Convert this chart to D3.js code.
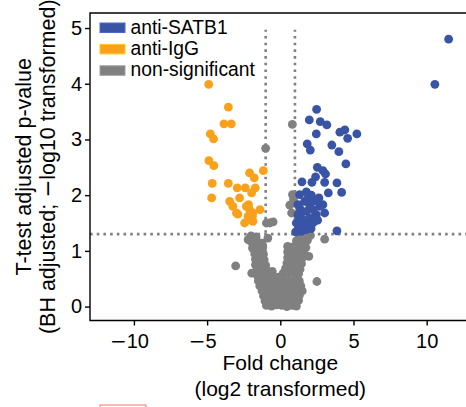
<!DOCTYPE html>
<html>
<head>
<meta charset="utf-8">
<script src="https://cdn.jsdelivr.net/npm/d3@7"></script>
<style>
    body { margin: 0; background: #fff; }
    svg { display: block; font-family: Arial, 'Liberation Sans', Helvetica, sans-serif; }
</style>
</head>
<body>
<div id='volcano'></div>
<script>
// fold change (log2), -log10 adjusted p
let satb1Points = [
    [11.5, 4.8], [10.56, 3.99], [2.48, 3.54], [1.98, 3.35], [2.73, 3.32], [3.18, 3.26],
    [2.46, 3.10], [4.07, 3.13], [4.41, 3.17], [4.60, 3.02], [5.23, 3.10], [1.84, 2.92],
    [2.05, 2.81], [3.52, 2.90], [4.0, 2.78], [4.48, 2.56], [2.53, 2.50], [2.91, 2.44],
    [3.09, 2.38], [2.41, 2.33], [2.16, 2.23], [1.48, 2.24], [3.03, 2.23], [3.87, 2.22],
    [3.28, 2.04], [4.19, 2.05], [2.64, 1.95], [1.78, 2.06], [2.12, 2.0], [1.32, 2.01],
    [1.66, 1.89], [2.0, 1.83], [1.32, 1.77], [1.78, 1.71], [2.23, 1.74], [1.20, 1.65],
    [1.54, 1.56], [2.0, 1.59], [2.46, 1.65], [1.09, 1.50], [1.66, 1.44], [2.23, 1.50],
    [2.91, 1.83], [3.03, 1.68], [1.43, 1.35], [1.05, 1.34], [3.87, 1.36], [2.68, 1.80],
    [1.2, 1.83], [1.89, 1.50], [1.5, 1.70], [1.9, 1.95], [2.35, 1.90], [1.35, 1.55],
    [1.75, 1.38], [2.1, 1.40], [1.25, 1.42], [2.55, 1.55]
];
let iggPoints = [
    [-4.89, 3.99], [-3.55, 3.58], [-3.85, 3.28], [-3.35, 3.28], [-4.78, 3.10], [-4.56, 3.01],
    [-4.88, 2.62], [-4.54, 2.53], [-4.65, 2.21], [-3.55, 2.21], [-2.94, 2.13], [-2.39, 2.13],
    [-1.71, 2.13], [-2.10, 2.40], [-1.78, 2.31], [-1.16, 2.44], [-1.96, 2.04], [-4.69, 1.95],
    [-3.46, 1.89], [-2.78, 1.95], [-3.24, 1.80], [-2.17, 1.83], [-2.10, 1.74], [-1.39, 1.74],
    [-2.90, 1.66], [-1.91, 1.62], [-2.44, 1.50], [-1.87, 1.53], [-2.32, 1.80], [-1.87, 1.68],
    [-1.98, 1.56], [-3.0, 1.68], [-2.2, 1.62]
];
let nsPoints = [
    [-1.0, 2.84], [0.82, 3.27], [0.83, 2.01], [0.9, 1.92], [0.77, 1.68], [0.65, 1.82],
    [-0.72, 1.50], [-0.95, 1.50], [-0.49, 1.52], [-0.85, 1.23], [-3.05, 0.73],
    [2.5, 0.45], [3.03, 1.21], [-2.2, 1.2], [1.95, 0.9], [-1.95, 0.6],
    [-2.0, 1.27], [-1.65, 1.25], [1.3, 1.28], [1.7, 1.27], [2.06, 1.28],
    [-1.95, 1.15], [-1.6, 1.16], [-1.25, 1.14], [1.1, 1.18], [1.5, 1.17], [1.85, 1.19],
    [-1.9, 1.05], [-1.55, 1.04], [-1.2, 1.06], [0.5, 1.08], [0.85, 1.07], [1.2, 1.09], [1.55, 1.08], [1.75, 1.06],
    [-1.75, 0.95], [-1.45, 0.96], [-1.15, 0.94], [0.5, 0.98], [0.85, 0.97], [1.2, 0.99], [1.6, 0.97],
    [-1.7, 0.85], [-1.4, 0.86], [-1.1, 0.84], [0.5, 0.88], [0.85, 0.87], [1.2, 0.89], [1.5, 0.87],
    [-1.7, 0.75], [-1.35, 0.76], [-1.0, 0.74], [0.45, 0.78], [0.8, 0.77], [1.15, 0.79], [1.45, 0.77],
    [-1.6, 0.65], [-1.25, 0.66], [-0.9, 0.64], [-0.55, 0.63], [0.35, 0.68], [0.7, 0.67], [1.05, 0.69], [1.35, 0.67],
    [-1.55, 0.55], [-1.2, 0.56], [-0.85, 0.54], [-0.5, 0.55], [-0.15, 0.53], [0.2, 0.60], [0.55, 0.59], [0.9, 0.61], [1.25, 0.59],
    [-1.5, 0.46], [-1.15, 0.45], [-0.8, 0.47], [-0.45, 0.46], [-0.1, 0.44], [0.25, 0.46], [0.6, 0.45], [0.95, 0.47], [1.3, 0.46],
    [-1.4, 0.37], [-1.05, 0.36], [-0.7, 0.38], [-0.35, 0.37], [0.0, 0.35], [0.35, 0.37], [0.7, 0.36], [1.05, 0.38], [1.4, 0.37],
    [-1.25, 0.28], [-0.9, 0.27], [-0.55, 0.29], [-0.2, 0.28], [0.15, 0.26], [0.5, 0.28], [0.85, 0.27], [1.2, 0.29], [1.5, 0.28],
    [-1.15, 0.19], [-0.8, 0.18], [-0.45, 0.20], [-0.1, 0.19], [0.25, 0.17], [0.6, 0.19], [0.95, 0.18], [1.3, 0.20],
    [-1.05, 0.10], [-0.7, 0.09], [-0.35, 0.11], [0.0, 0.10], [0.35, 0.08], [0.7, 0.10], [1.05, 0.09], [1.25, 0.11],
    [-0.95, 0.02], [-0.6, 0.01], [-0.25, 0.03], [0.1, 0.02], [0.45, 0.00], [0.8, 0.02], [1.1, 0.01]
];
let xTicks = [-10, -5, 0, 5, 10];
let yTicks = [0, 1, 2, 3, 4, 5];
let foldCuts = [-1, 1];
let pCut = 1.3;
let legendLabels = ['anti-SATB1', 'anti-IgG', 'non-significant'];
let legendColors = ['#3a54a5', '#f9a11b', '#808080'];

let width = 466,
    height = 407,
    margin = {left: 90, top: 13, bottom: 320.5},
    plotRight = 470.6;

let svg = d3.select('#volcano')
    .append('svg')
    .attr('width', width)
    .attr('height', height);

let xScale = d3.scaleLinear()
    .domain([-13, 13])
    .range([margin.left, plotRight]);
let yScale = d3.scaleLinear()
    .domain([-0.25, 5.27])
    .range([margin.bottom, margin.top]);

// cut-off lines
svg.append('line')
    .attr('x1', margin.left)
    .attr('x2', plotRight)
    .attr('y1', yScale(pCut))
    .attr('y2', yScale(pCut))
    .attr('stroke', '#808080')
    .attr('stroke-width', 2.6)
    .attr('stroke-dasharray', '2.6,4.1');
svg.selectAll('line.foldCut')
    .data(foldCuts)
    .enter()
    .append('line')
    .attr('class', 'foldCut')
    .attr('x1', d => xScale(d))
    .attr('x2', d => xScale(d))
    .attr('y1', yScale(0))
    .attr('y2', yScale(4.97))
    .attr('stroke', '#808080')
    .attr('stroke-width', 2.6)
    .attr('stroke-dasharray', '2.6,4.1');

let groups = [nsPoints, iggPoints, satb1Points];
let groupColors = [legendColors[2], legendColors[1], legendColors[0]];
groups.forEach(function(points, i) {
    svg.append('g')
        .selectAll('circle')
        .data(points)
        .enter()
        .append('circle')
        .attr('cx', d => xScale(d[0]))
        .attr('cy', d => yScale(d[1]))
        .attr('r', 4.4)
        .attr('fill', groupColors[i]);
});

// frame
svg.append('path')
    .attr('d', 'M' + plotRight + ',' + margin.top + 'H' + margin.left + 'V' + margin.bottom + 'H' + plotRight + 'Z')
    .attr('fill', 'none')
    .attr('stroke', '#000')
    .attr('stroke-width', 1.4);

let xAxis = svg.append('g')
    .attr('transform', 'translate(0,' + margin.bottom + ')')
    .call(d3.axisBottom(xScale)
        .tickValues(xTicks)
        .tickSize(5)
        .tickPadding(8)
        .tickFormat(d => Math.abs(d)));
let yAxis = svg.append('g')
    .attr('transform', 'translate(' + margin.left + ',0)')
    .call(d3.axisLeft(yScale)
        .tickValues(yTicks)
        .tickSize(5)
        .tickPadding(3)
        .tickFormat(d3.format('d')));
[xAxis, yAxis].forEach(function(axis) {
    axis.select('.domain').remove();
    axis.selectAll('line').attr('stroke', '#000').attr('stroke-width', 1.4);
    axis.selectAll('text')
        .attr('fill', '#000')
        .style('font-size', '20px')
        .style('font-family', 'Arial, "Liberation Sans", sans-serif');
});
// wider minus sign on the negative x labels
xAxis.selectAll('.tick text')
    .filter(d => d < 0)
    .attr('dx', -5)
    .each(function(d) {
        let t = d3.select(this);
        t.text(null);
        t.append('tspan').style('font-family', '"DejaVu Sans", sans-serif').text('\u2212');
        t.append('tspan').text(Math.abs(d));
    });

// axis titles
let xTitle = svg.append('text')
    .attr('text-anchor', 'middle')
    .style('font-size', '21px');
xTitle.append('tspan').attr('x', xScale(0)).attr('y', 370).text('Fold change');
xTitle.append('tspan').attr('x', xScale(0)).attr('y', 396).text('(log2 transformed)');

let yTitle = svg.append('text')
    .attr('text-anchor', 'middle')
    .attr('transform', 'translate(0,' + (margin.top + margin.bottom) / 2 + ') rotate(-90)')
    .style('font-size', '21.5px');
yTitle.append('tspan').attr('x', 0).attr('y', 30.5).text('T-test adjusted p-value');
let yTitle2 = yTitle.append('tspan').attr('x', 0).attr('y', 55);
yTitle2.append('tspan').text('(BH adjusted; ');
yTitle2.append('tspan').style('font-family', '"DejaVu Sans", sans-serif').text('\u2212');
yTitle2.append('tspan').text('log10 transformed)');

// legend
let legend = svg.append('g')
    .attr('transform', 'translate(100,22)');
let legendItems = legend.selectAll('g')
    .data(legendLabels)
    .enter()
    .append('g')
    .attr('transform', (d, i) => 'translate(0,' + i * 21.4 + ')');
legendItems.append('rect')
    .attr('x', 0)
    .attr('y', 1)
    .attr('width', 25)
    .attr('height', 9.5)
    .attr('fill', (d, i) => legendColors[i])
    .attr('stroke', (d, i) => d3.color(legendColors[i]).brighter(0.6))
    .attr('stroke-width', 1);
legendItems.append('text')
    .attr('x', 30.5)
    .attr('y', 11.5)
    .style('font-size', '19.3px')
    .text(d => d);

// cropped marker at the bottom edge
svg.append('rect')
    .attr('x', 100)
    .attr('y', 405)
    .attr('width', 46)
    .attr('height', 10)
    .attr('fill', 'none')
    .attr('stroke', '#f07a66')
    .attr('stroke-width', 1);
</script>
</body>
</html>
